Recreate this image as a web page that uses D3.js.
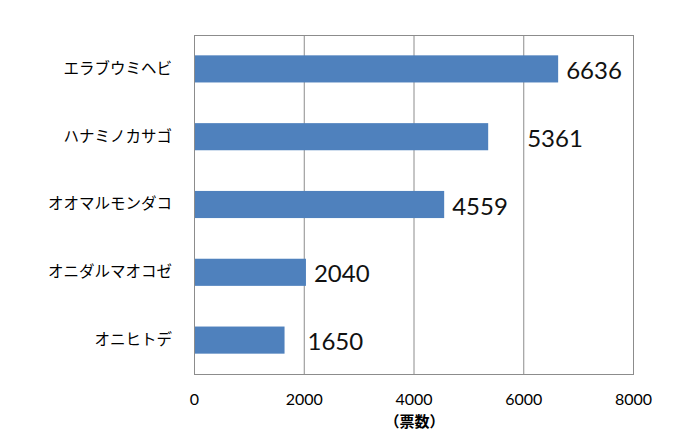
<!DOCTYPE html>
<html>
<head>
<meta charset="utf-8">
<script src="https://cdn.jsdelivr.net/npm/d3@7"></script>
<style>
  body { margin: 0; background: #fff; }
</style>
</head>
<body>
<svg></svg>
<script>
const width = 680
const height = 431
const marginTop = 35
const marginRight = 47
const marginBottom = 57
const marginLeft = 194

// data
const species = ["エラブウミヘビ", "ハナミノカサゴ", "オオマルモンダコ", "オニダルマオコゼ", "オニヒトデ"]
const votes = [6636, 5361, 4559, 2040, 1650]
const xTicks = [0, 2000, 4000, 6000, 8000]
const axisTitle = "（票数）"

// label nudges to the right of each bar end (px), as placed in the original
const labelShift = [8, 39, 8, 8, 23]

const barData = species.map((s, i) => ({name: s, value: votes[i], shift: labelShift[i]}))

const svg = d3.select("svg")
    .attr("width", width)
    .attr("height", height)

const chartWidth = width - marginLeft - marginRight
const chartHeight = height - marginTop - marginBottom

const g = svg.append("g").attr("transform", `translate(${marginLeft}, ${marginTop})`)

const x = d3.scaleLinear()
    .domain([0, 8000])
    .range([0, chartWidth])

const y = d3.scaleBand()
    .domain(species)
    .range([0, chartHeight])
    .paddingInner(0.6)
    .paddingOuter(0.3)

// gridlines
g.append("g")
    .selectAll("line")
    .data(xTicks.slice(1))
    .join("line")
    .attr("x1", d => x(d) + 0.5)
    .attr("x2", d => x(d) + 0.5)
    .attr("y1", 0)
    .attr("y2", chartHeight)
    .attr("stroke", "#8c8c8c")
    .attr("stroke-width", 1)

// plot border
g.append("rect")
    .attr("x", 0.5)
    .attr("y", 0.5)
    .attr("width", chartWidth)
    .attr("height", chartHeight)
    .attr("fill", "none")
    .attr("stroke", "#8c8c8c")

// bars
g.selectAll(".bar")
    .data(barData)
    .join("rect")
    .attr("class", "bar")
    .attr("x", x(0) + 1)
    .attr("y", d => y(d.name))
    .attr("width", d => x(d.value) - x(0) - 1)
    .attr("height", y.bandwidth())
    .attr("fill", "#4f81bd")

// value labels
g.selectAll(".val")
    .data(barData)
    .join("text")
    .attr("class", "val")
    .attr("x", d => x(d.value) + d.shift)
    .attr("y", d => y(d.name) + y.bandwidth() / 2 + 10)
    .attr("font-family", "Lato, 'Open Sans', sans-serif")
    .attr("font-size", "24px")
    .attr("fill", "#111")
    .text(d => d.value)

// y axis (category labels)
const yAxisCall = d3.axisLeft(y).tickSize(0).tickPadding(22)
g.append("g")
    .call(yAxisCall)
    .call(a => a.select(".domain").remove())
    .selectAll("text")
    .attr("font-family", "'Noto Sans CJK JP', sans-serif")
    .attr("font-size", "15.5px")
    .attr("fill", "#000")

// x axis
const xAxisCall = d3.axisBottom(x).tickValues(xTicks).tickSize(0).tickPadding(20).tickFormat(d3.format("d"))
g.append("g")
    .attr("transform", `translate(0, ${chartHeight})`)
    .call(xAxisCall)
    .call(a => a.select(".domain").remove())
    .selectAll("text")
    .attr("font-family", "Lato, 'Open Sans', sans-serif")
    .attr("font-size", "16px")
    .attr("fill", "#000")

// axis title
g.append("text")
    .attr("x", x(4000) + 1)
    .attr("y", chartHeight + 53)
    .attr("text-anchor", "middle")
    .attr("font-family", "'Noto Sans CJK JP', sans-serif")
    .attr("font-weight", "bold")
    .attr("font-size", "15px")
    .text(axisTitle)
</script>
</body>
</html>
